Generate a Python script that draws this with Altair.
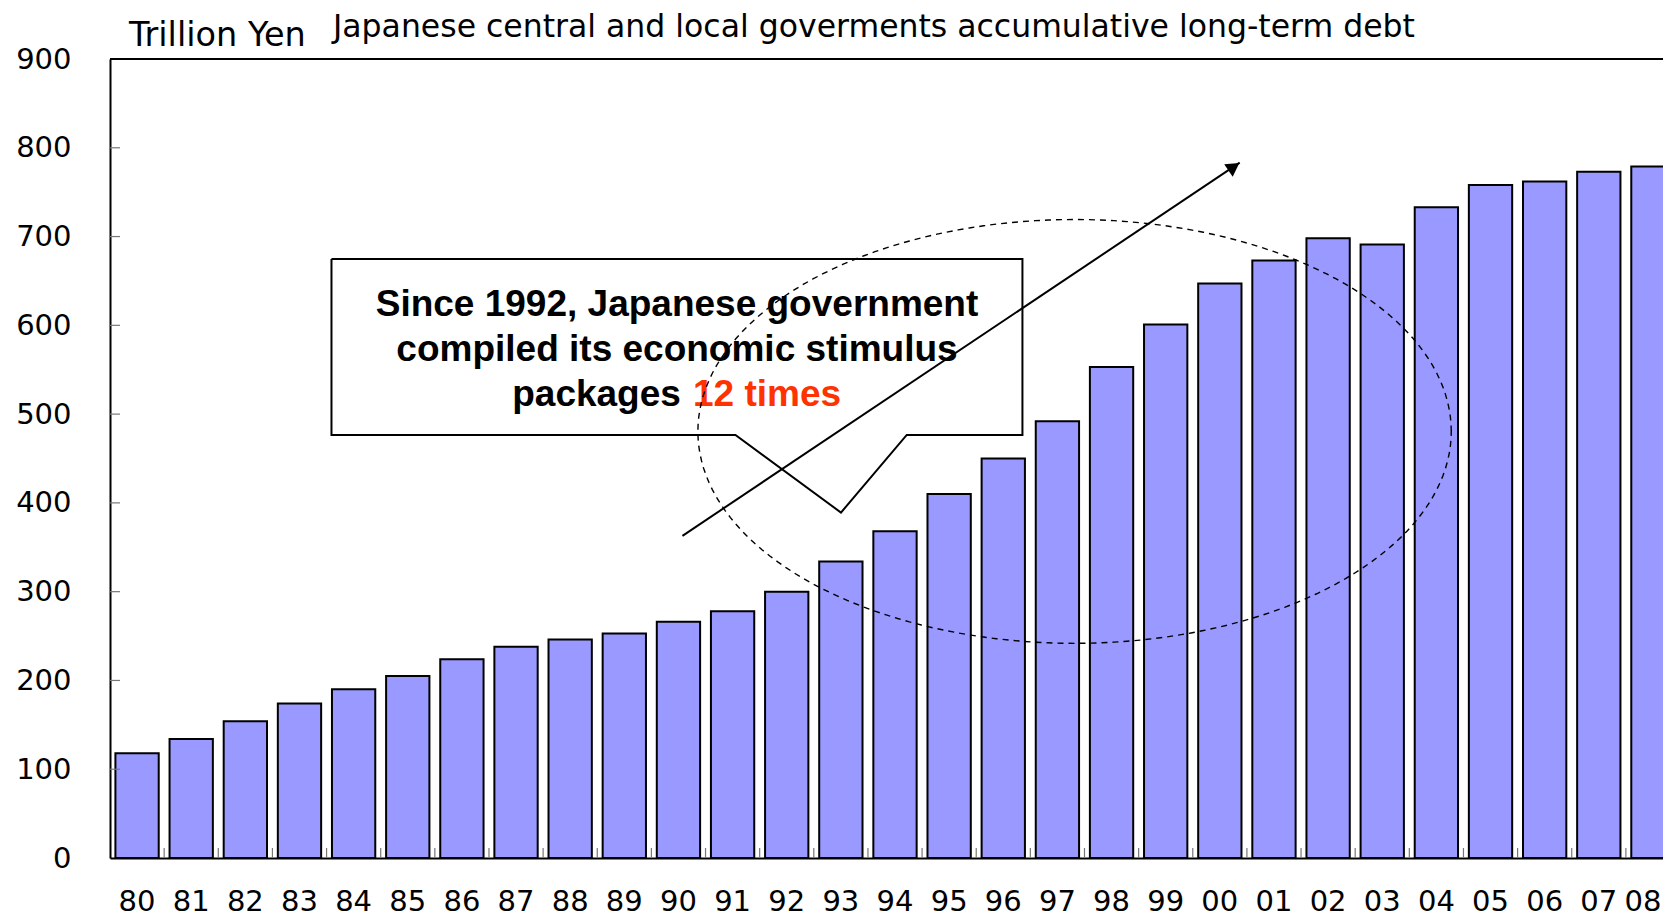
import altair as alt
import pandas as pd
import numpy as np

# ---------------- data ----------------
years = ["80", "81", "82", "83", "84", "85", "86", "87", "88", "89",
         "90", "91", "92", "93", "94", "95", "96", "97", "98", "99",
         "00", "01", "02", "03", "04", "05", "06", "07", "08"]
debt = [118, 134, 154, 174, 190, 205, 224, 238, 246, 253,
        266, 278, 300, 334, 368, 410, 450, 492, 553, 601,
        647, 673, 698, 691, 733, 758, 762, 773, 779]
y_tick_values = [0, 100, 200, 300, 400, 500, 600, 700, 800, 900]
inner_ticks = [100, 200, 300, 400, 500, 600, 700, 800]

title_text = "Japanese central and local goverments accumulative long-term debt"
unit_text = "Trillion Yen"
note_lines = ["Since 1992, Japanese government", "compiled its economic stimulus"]
note_black = "packages "
note_red = "12 times"

# annotation geometry in data units (x: year slots from left of "80", y: trillion yen)
callout_x = [4.091, 16.854, 16.854, 14.717, 13.502, 11.553, 4.091, 4.091]
callout_y = [674.8, 674.8, 476.6, 476.6, 389.1, 476.6, 476.6, 674.8]
note_x = 10.473
note_line_y = [622.6, 571.9]
note_last_y = 521.7
note_split_left = 10.545
note_split_right = 10.768
ellipse_center = (17.817, 480.5)
ellipse_radius = (6.958, 238.7)
arrow_x = [10.574, 20.867]
arrow_y = [362.9, 783.2]
head_x = [20.76]
head_y = [778.6]

# ---------------- layout ----------------
W, H = 1570, 799
FONT = "DejaVu Sans"

df = pd.DataFrame({"year": years, "debt": debt})
df_xt = pd.DataFrame({"year": years[1:]})
df_yt = pd.DataFrame({"v": inner_ticks})
df_top = pd.DataFrame({"v": [900]})

x_scale = alt.Scale(domain=years, paddingInner=0.2, paddingOuter=0.1)
y_scale = alt.Scale(domain=[0, 900], nice=False, zero=True)
x_axis = alt.Axis(labelAngle=0, labelFont=FONT, labelFontSize=29, labelColor="black",
                  domainColor="black", domainWidth=2, ticks=False, tickSize=0,
                  labelPadding=43, labelBaseline="middle", grid=False, title=None,
                  labelOffset={"condition": {"test": "datum.value == '08'", "value": -10},
                               "value": 0})
y_axis = alt.Axis(values=y_tick_values, labelFont=FONT, labelFontSize=29, labelColor="black",
                  domainColor="black", domainWidth=2, ticks=False, tickSize=0,
                  labelPadding=39, grid=False, title=None)

bars = alt.Chart(df).mark_bar(color="#9999FF", stroke="black", strokeWidth=2).encode(
    x=alt.X("year:N", sort=years, scale=x_scale, axis=x_axis),
    y=alt.Y("debt:Q", scale=y_scale, axis=y_axis),
)
xticks = alt.Chart(df_xt).mark_rule(color="#777777", strokeWidth=1.2, xOffset=-5.4).encode(
    x=alt.X("year:N", sort=years, scale=x_scale, axis=x_axis, bandPosition=0),
    y=alt.value(H - 10), y2=alt.value(H),
)
yticks = alt.Chart(df_yt).mark_rule(color="#777777", strokeWidth=1.2).encode(
    y=alt.Y("v:Q", scale=y_scale, axis=y_axis),
    x=alt.value(0), x2=alt.value(10),
)
topline = alt.Chart(df_top).mark_rule(color="black", strokeWidth=2).encode(
    y=alt.Y("v:Q", scale=y_scale, axis=y_axis),
    x=alt.value(0), x2=alt.value(W),
)
base = alt.layer(bars, xticks, yticks, topline)

# ---------------- annotations ----------------
ax = alt.Scale(domain=[0, 29], nice=False, zero=False)
ay = alt.Scale(domain=[0, 900], nice=False, zero=True)

df_box = pd.DataFrame({"x": callout_x, "y": callout_y, "o": list(range(len(callout_x)))})
box = alt.Chart(df_box).mark_line(color="black", strokeWidth=2).encode(
    x=alt.X("x:Q", scale=ax, axis=None), y=alt.Y("y:Q", scale=ay, axis=None), order="o:Q")

t = np.linspace(0, 2 * np.pi, 181)
df_ell = pd.DataFrame({
    "x": ellipse_center[0] + ellipse_radius[0] * np.cos(t),
    "y": ellipse_center[1] + ellipse_radius[1] * np.sin(t),
    "o": np.arange(len(t)),
})
ell = alt.Chart(df_ell).mark_line(color="black", strokeWidth=1.4, strokeDash=[6, 5]).encode(
    x=alt.X("x:Q", scale=ax, axis=None), y=alt.Y("y:Q", scale=ay, axis=None), order="o:Q")

df_arrow = pd.DataFrame({"x": arrow_x, "y": arrow_y, "o": [0, 1]})
arrow = alt.Chart(df_arrow).mark_line(color="black", strokeWidth=2).encode(
    x=alt.X("x:Q", scale=ax, axis=None), y=alt.Y("y:Q", scale=ay, axis=None), order="o:Q")
df_head = pd.DataFrame({"x": head_x, "y": head_y})
head = alt.Chart(df_head).mark_point(shape="triangle-up", filled=True, size=230, angle=56,
                                     color="black", opacity=1).encode(
    x=alt.X("x:Q", scale=ax, axis=None), y=alt.Y("y:Q", scale=ay, axis=None))

df_note = pd.DataFrame({"x": [note_x] * len(note_lines), "y": note_line_y, "t": note_lines})
note1 = alt.Chart(df_note).mark_text(font="Liberation Sans", fontWeight="bold", fontSize=37,
                                     color="black", align="center", baseline="middle").encode(
    x=alt.X("x:Q", scale=ax, axis=None), y=alt.Y("y:Q", scale=ay, axis=None), text="t:N")
df_nb = pd.DataFrame({"x": [note_split_left], "y": [note_last_y], "t": [note_black]})
note2 = alt.Chart(df_nb).mark_text(font="Liberation Sans", fontWeight="bold", fontSize=37,
                                   color="black", align="right", baseline="middle").encode(
    x=alt.X("x:Q", scale=ax, axis=None), y=alt.Y("y:Q", scale=ay, axis=None), text="t:N")
df_nr = pd.DataFrame({"x": [note_split_right], "y": [note_last_y], "t": [note_red]})
note3 = alt.Chart(df_nr).mark_text(font="Liberation Sans", fontWeight="bold", fontSize=37,
                                   color="#FF3300", align="left", baseline="middle").encode(
    x=alt.X("x:Q", scale=ax, axis=None), y=alt.Y("y:Q", scale=ay, axis=None), text="t:N")

df_title = pd.DataFrame({"t": [title_text]})
title = alt.Chart(df_title).mark_text(font=FONT, fontSize=31.5, color="black", align="left",
                                      baseline="middle").encode(
    x=alt.value(223), y=alt.value(-31), text="t:N")
df_unit = pd.DataFrame({"t": [unit_text]})
unit = alt.Chart(df_unit).mark_text(font=FONT, fontSize=33.5, color="black", align="left",
                                    baseline="middle").encode(
    x=alt.value(19), y=alt.value(-23), text="t:N")

ann = alt.layer(box, note1, note2, note3, ell, arrow, head, title, unit)

chart = alt.layer(base, ann).resolve_scale(x="independent", y="independent").properties(
    width=W, height=H,
    autosize=alt.AutoSizeParams(type="none"),
    padding={"left": 102, "top": 51, "right": -17, "bottom": 59},
).configure_view(stroke=None)

chart.save("out.html", embed_options={"renderer": "svg", "actions": False})
